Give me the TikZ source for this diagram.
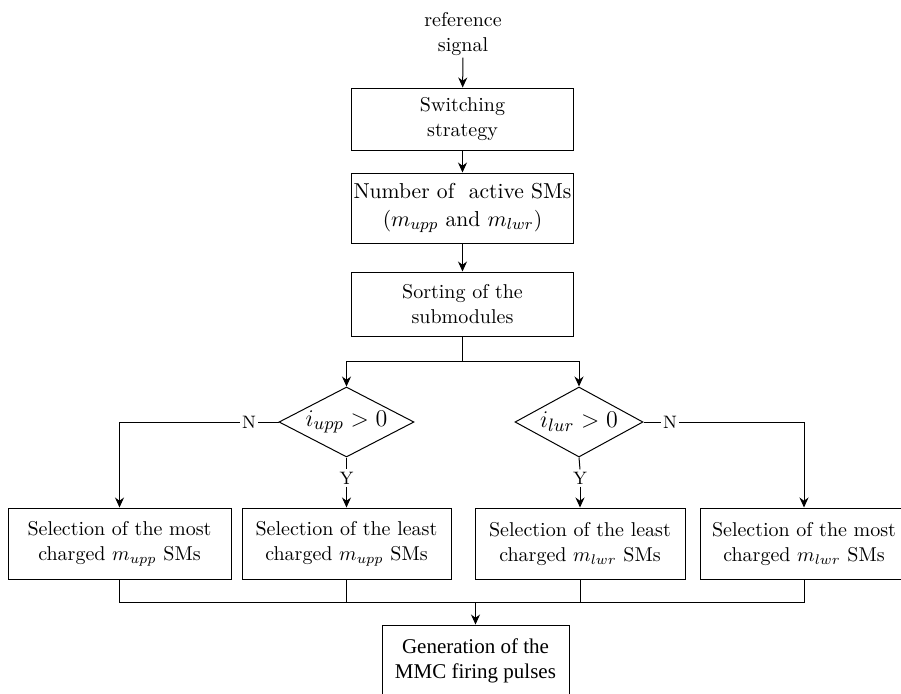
\documentclass[tikz,border=0pt]{standalone}
\usepackage{fontspec}
\newfontfamily\timesf{Liberation Serif}
\usetikzlibrary{shapes.geometric,arrows.meta}
\begin{document}
\begin{tikzpicture}[x=0.5pt,y=-0.5pt,
  line width=0.5pt,
  box/.style={draw, rectangle, inner sep=0pt, align=center, font=\fontsize{10}{12.5}\selectfont},
  dia/.style={draw, diamond, aspect=1.9, inner sep=0pt, font=\fontsize{13}{15}\selectfont},
  lbl/.style={inner sep=1pt, font=\fontsize{9}{11}\selectfont},
  arr/.style={-{Stealth[length=5pt,width=4.5pt]}}]
\useasboundingbox (0,0) rectangle (901,693);
\clip (0,0) rectangle (901,693);
\node[align=center, inner sep=1pt, font=\fontsize{10}{12.5}\selectfont] (ref) at (463,33.5) {reference\\signal};
\node[box, minimum width=111pt, minimum height=31pt] (sw) at (462.5,119) {Switching\\strategy};
\node[box, minimum width=111pt, minimum height=35pt, font=\fontsize{10.8}{14}\selectfont] (num) at (462.5,208) {Number of\ \ active SMs\\($m_{upp}$ and $m_{lwr}$)};
\node[box, minimum width=111pt, minimum height=32pt] (sort) at (462.5,304) {Sorting of the\\submodules};
\coordinate (j) at (462.5,361);
\node[dia, minimum width=67.5pt, minimum height=35pt] (d1) at (346.5,422) {$i_{upp}>0$};
\node[dia, minimum width=64pt, minimum height=35pt] (d2) at (579,422) {$i_{lur}>0$};
\node[lbl] (n1) at (249,422) {N};
\node[lbl] (n2) at (670,422) {N};
\node[lbl] (y1) at (346.5,478) {Y};
\node[lbl] (y2) at (580,478) {Y};
\node[box, minimum width=111.5pt, minimum height=35.5pt] (b1) at (119.5,543.5) {Selection of the most\\charged $m_{upp}$ SMs};
\node[box, minimum width=104.5pt, minimum height=35.5pt] (b2) at (346.5,543.5) {Selection of the least\\charged $m_{upp}$ SMs};
\node[box, minimum width=105pt, minimum height=35.5pt] (b3) at (580,543.5) {Selection of the least\\charged $m_{lwr}$ SMs};
\node[box, minimum width=104pt, minimum height=35.5pt] (b4) at (804,543.5) {Selection of the most\\charged $m_{lwr}$ SMs};
\node[box, minimum width=93.5pt, minimum height=35.5pt, font=\timesf\fontsize{10.5}{12.5}\selectfont] (gen) at (475.5,660.5) {Generation of the\\MMC firing pulses};
\coordinate (m) at (475.5,602);
\draw[arr] (ref) -- (sw);
\draw[arr] (sw) -- (num);
\draw[arr] (num) -- (sort);
\draw (sort.south) -- (j);
\draw[arr] (j) -| (d1.north);
\draw[arr] (j) -| (d2.north);
\draw (d1.west) -- (n1.east);
\draw[arr] (n1.west) -| (b1.north);
\draw (d2.east) -- (n2.west);
\draw[arr] (n2.east) -| (b4.north);
\draw (d1.south) -- (y1.north);
\draw[arr] (y1.south) -- (b2.north);
\draw (d2.south) -- (y2.north);
\draw[arr] (y2.south) -- (b3.north);
\draw (b1.south) -- (b1.south |- m) -- (b4.south |- m) -- (b4.south);
\draw (b2.south) -- (b2.south |- m);
\draw (b3.south) -- (b3.south |- m);
\draw[arr] (m) -- (gen.north);
\end{tikzpicture}
\end{document}
